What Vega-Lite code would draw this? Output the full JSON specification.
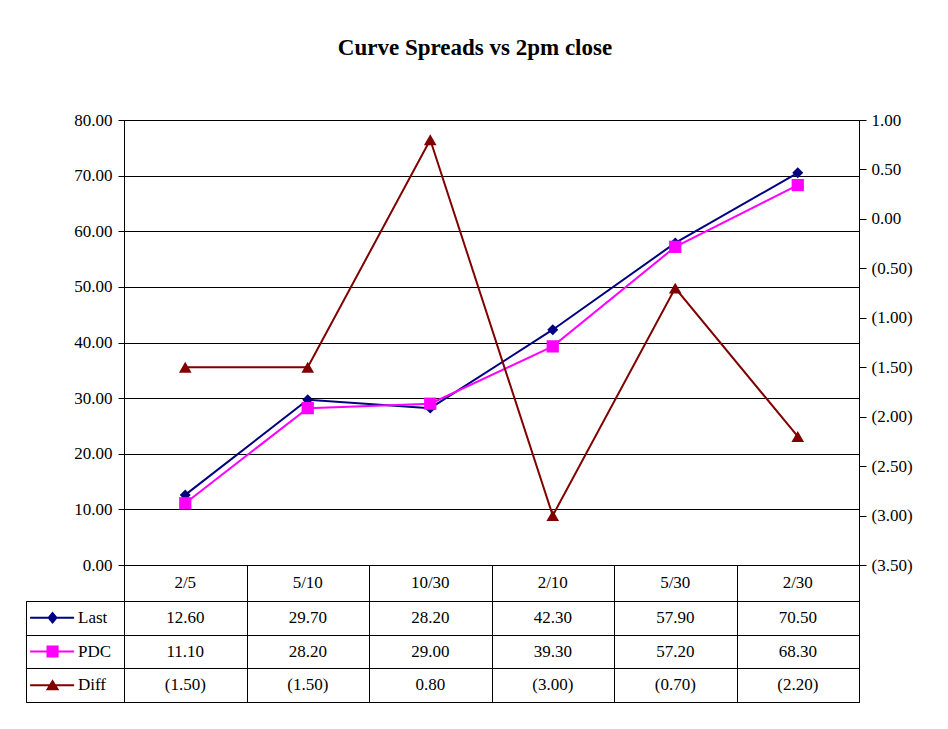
{
  "$schema": "https://vega.github.io/schema/vega-lite/v6.json",
  "background": "white",
  "padding": {"left": 25, "top": 36, "right": 5, "bottom": 5},
  "title": {"text": "Curve Spreads vs 2pm close", "font": "Liberation Serif", "fontSize": 23, "fontWeight": "bold", "color": "black", "anchor": "middle", "frame": "group", "dx": 449, "offset": 51},
  "datasets": {
    "main": [
      {"cat": "2/5", "Last": 12.6, "PDC": 11.1, "Diff": -1.5},
      {"cat": "5/10", "Last": 29.7, "PDC": 28.2, "Diff": -1.5},
      {"cat": "10/30", "Last": 28.2, "PDC": 29.0, "Diff": 0.8},
      {"cat": "2/10", "Last": 42.3, "PDC": 39.3, "Diff": -3.0},
      {"cat": "5/30", "Last": 57.9, "PDC": 57.2, "Diff": -0.7},
      {"cat": "2/30", "Last": 70.5, "PDC": 68.3, "Diff": -2.2}
    ]
  },
  "columns": 2,
  "spacing": 0,
  "bounds": "flush",
  "align": "each",
  "concat": [
    {"width": 98, "height": 445, "view": {"stroke": null}, "data": {"values": [{}]}, "mark": {"type": "text", "text": ""}},
    {
      "width": 735,
      "height": 445,
      "view": {"stroke": "black"},
      "data": {"name": "main"},
      "encoding": {
        "x": {"field": "cat", "type": "ordinal", "sort": null, "scale": {"type": "point", "padding": 0.5}, "axis": null}
      },
      "layer": [
        {
          "encoding": {
            "y": {"field": "Last", "type": "quantitative", "scale": {"domain": [0, 80], "nice": false, "zero": false},
              "axis": {"orient": "left", "values": [0, 10, 20, 30, 40, 50, 60, 70, 80], "format": ".2f", "title": null, "grid": true, "gridColor": "black", "gridWidth": 1, "gridOpacity": 1, "tickSize": 6, "labelPadding": 6, "domainColor": "black"}}
          },
          "layer": [
            {"mark": {"type": "line", "color": "#000080", "strokeWidth": 2}},
            {"mark": {"type": "point", "shape": "diamond", "filled": true, "color": "#000080", "size": 120, "opacity": 1}}
          ]
        },
        {
          "encoding": {
            "y": {"field": "PDC", "type": "quantitative", "scale": {"domain": [0, 80], "nice": false, "zero": false}, "axis": null}
          },
          "layer": [
            {"mark": {"type": "line", "color": "#FF00FF", "strokeWidth": 2}},
            {"mark": {"type": "point", "shape": "square", "filled": true, "color": "#FF00FF", "size": 150, "opacity": 1}}
          ]
        },
        {
          "encoding": {
            "y": {"field": "Diff", "type": "quantitative", "scale": {"domain": [-3.5, 1], "nice": false, "zero": false},
              "axis": {"orient": "right", "values": [-3.5, -3, -2.5, -2, -1.5, -1, -0.5, 0, 0.5, 1], "format": "(.2f", "title": null, "grid": false, "tickSize": 7, "labelPadding": 5, "domainColor": "black"}}
          },
          "layer": [
            {"mark": {"type": "line", "color": "#800000", "strokeWidth": 2}},
            {"mark": {"type": "point", "shape": "triangle-up", "filled": true, "color": "#800000", "size": 160, "opacity": 1}}
          ]
        }
      ],
      "resolve": {"scale": {"y": "independent"}, "axis": {"y": "independent"}}
    },
    {"width": 98, "height": 36, "view": {"stroke": null}, "data": {"values": [{}]}, "mark": {"type": "text", "text": ""}},
    {
      "width": 735,
      "height": 36,
      "view": {"stroke": "black"},
      "data": {"name": "main"},
      "mark": {"type": "text", "baseline": "middle", "align": "center", "color": "black"},
      "encoding": {
        "x": {"field": "cat", "type": "ordinal", "sort": null, "scale": {"type": "band", "paddingInner": 0, "paddingOuter": 0},
          "axis": {"title": null, "labels": false, "ticks": false, "domain": false, "grid": true, "tickBand": "extent", "gridColor": "black", "gridOpacity": 1}},
        "text": {"field": "cat"}
      }
    },
    {
      "width": 98,
      "height": 101,
      "view": {"stroke": "black"},
      "data": {"name": "main"},
      "transform": [
        {"fold": ["Last", "PDC", "Diff"], "as": ["series", "value"]},
        {"aggregate": [{"op": "count", "as": "n"}], "groupby": ["series"]}
      ],
      "encoding": {
        "y": {"field": "series", "type": "nominal", "scale": {"type": "band", "domain": ["Last", "PDC", "Diff"], "paddingInner": 0, "paddingOuter": 0},
          "axis": {"title": null, "labels": false, "ticks": false, "domain": false, "grid": true, "tickBand": "extent", "gridColor": "black", "gridOpacity": 1}}
      },
      "layer": [
        {
          "mark": {"type": "point", "filled": true, "opacity": 1, "size": 8064, "strokeWidth": 0},
          "encoding": {
            "color": {"field": "series", "type": "nominal", "scale": {"domain": ["Last", "PDC", "Diff"], "range": ["#000080", "#FF00FF", "#800000"]}, "legend": null},
            "shape": {"field": "series", "type": "nominal", "scale": {"domain": ["Last", "PDC", "Diff"], "range": [
              "M-1,-0.022L-0.02,-0.022L-0.02,0.022L-1,0.022Z M-0.5,-0.14L-0.385,0L-0.5,0.14L-0.615,0Z",
              "M-1,-0.022L-0.02,-0.022L-0.02,0.022L-1,0.022Z M-0.635,-0.135L-0.365,-0.135L-0.365,0.135L-0.635,0.135Z",
              "M-1,-0.022L-0.02,-0.022L-0.02,0.022L-1,0.022Z M-0.5,-0.13L-0.35,0.115L-0.65,0.115Z"
            ]}, "legend": null}
          }
        },
        {
          "mark": {"type": "text", "align": "left", "baseline": "middle", "dx": 3, "color": "black"},
          "encoding": {"text": {"field": "series"}}
        }
      ]
    },
    {
      "width": 735,
      "height": 101,
      "view": {"stroke": "black"},
      "data": {"name": "main"},
      "transform": [{"fold": ["Last", "PDC", "Diff"], "as": ["series", "value"]}],
      "mark": {"type": "text", "baseline": "middle", "align": "center", "color": "black"},
      "encoding": {
        "x": {"field": "cat", "type": "ordinal", "sort": null, "scale": {"type": "band", "paddingInner": 0, "paddingOuter": 0},
          "axis": {"title": null, "labels": false, "ticks": false, "domain": false, "grid": true, "tickBand": "extent", "gridColor": "black", "gridOpacity": 1}},
        "y": {"field": "series", "type": "nominal", "scale": {"type": "band", "domain": ["Last", "PDC", "Diff"], "paddingInner": 0, "paddingOuter": 0},
          "axis": {"title": null, "labels": false, "ticks": false, "domain": false, "grid": true, "tickBand": "extent", "gridColor": "black", "gridOpacity": 1}},
        "text": {"field": "value", "type": "quantitative", "format": "(.2f"}
      }
    }
  ],
  "config": {
    "font": "Liberation Serif",
    "axis": {"labelFont": "Liberation Serif", "labelFontSize": 17, "labelColor": "black", "domainColor": "black", "tickColor": "black", "gridColor": "black", "domainWidth": 1, "tickWidth": 1},
    "text": {"font": "Liberation Serif", "fontSize": 17},
    "view": {"stroke": "black"}
  }
}
